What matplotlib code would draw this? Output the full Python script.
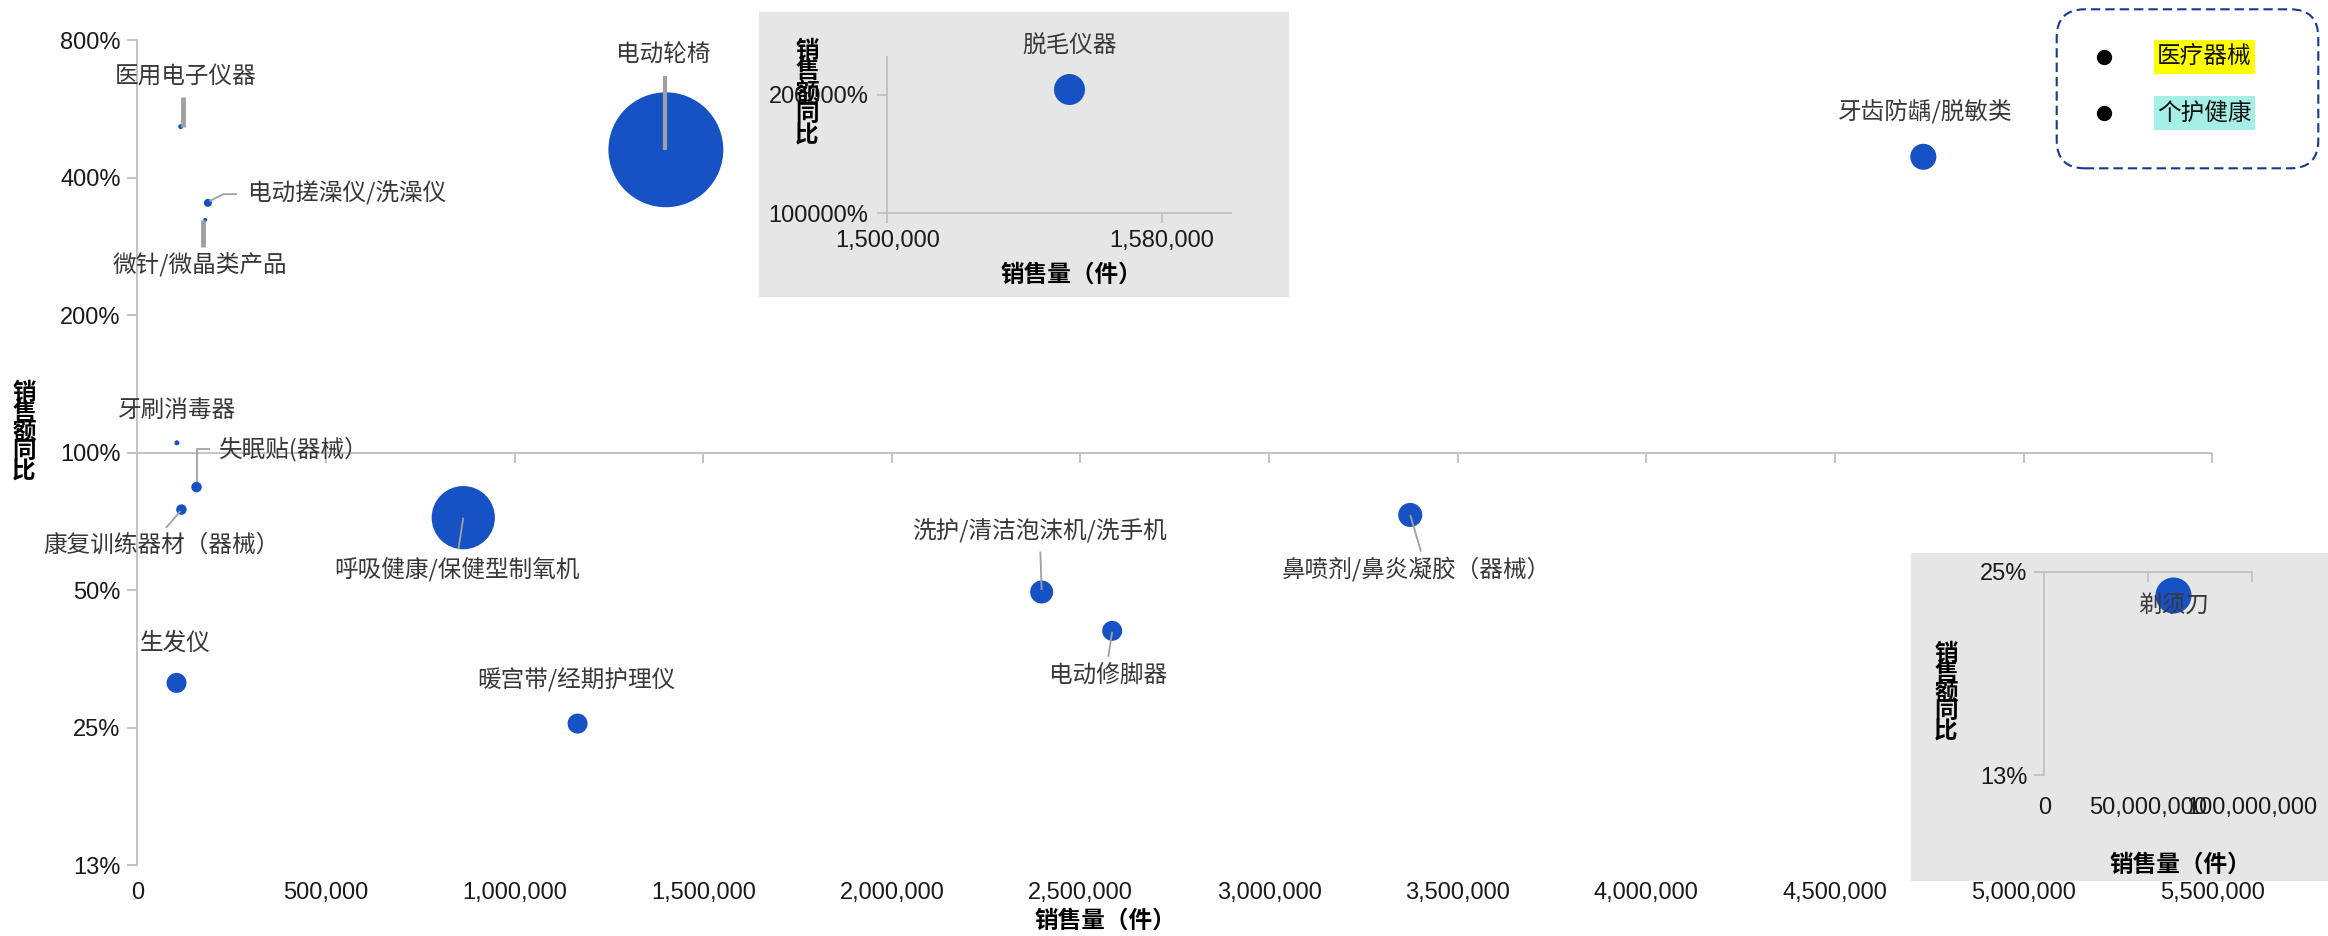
import numpy as np
import matplotlib
matplotlib.use("Agg")
import matplotlib.pyplot as plt
from matplotlib.patches import Rectangle, FancyBboxPatch
from matplotlib.lines import Line2D
from matplotlib.transforms import IdentityTransform
from matplotlib.ticker import FixedLocator, FixedFormatter, NullLocator

plt.rcParams['font.family'] = ['Liberation Sans', 'Noto Sans CJK SC', 'DejaVu Sans']
CJK = ['Noto Sans CJK SC', 'DejaVu Sans']

# ---------------- data ----------------
categories = ['医用电子仪器', '电动搓澡仪/洗澡仪', '微针/微晶类产品', '电动轮椅', '牙齿防龋/脱敏类',
              '牙刷消毒器', '失眠贴(器械）', '康复训练器材（器械）', '呼吸健康/保健型制氧机', '生发仪',
              '暖宫带/经期护理仪', '洗护/清洁泡沫机/洗手机', '电动修脚器', '鼻喷剂/鼻炎凝胶（器械）']
sales_volume = [115000, 187000, 180000, 1401000, 4734000, 105000, 157000, 117000,
                864000, 104000, 1167000, 2397000, 2584000, 3374000]
sales_yoy = [5.17, 3.52, 3.23, 4.60, 4.44, 1.05, 0.84, 0.75, 0.72, 0.313, 0.255, 0.495, 0.407, 0.73]
sales_amount = [0.25, 0.64, 0.16, 132, 6.8, 0.25, 1.1, 1.1, 40, 4.0, 4.0, 5.3, 4.0, 5.8]

inset1_category = ['脱毛仪器']
inset1_volume = [1553000]
inset1_yoy = [2067.0]
inset1_amount = [9.6]

inset2_category = ['剃须刀']
inset2_volume = [62200000]
inset2_yoy = [0.231]
inset2_amount = [13.0]

legend_labels = ['医疗器械', '个护健康']

main_xticks = [0, 500000, 1000000, 1500000, 2000000, 2500000, 3000000, 3500000,
               4000000, 4500000, 5000000, 5500000]
main_yticks = [0.125, 0.25, 0.5, 1, 2, 4, 8]
inset1_xticks = [1500000, 1580000]
inset1_yticks = [1000, 2000]
inset2_xticks = [0, 50000000, 100000000]
inset2_yticks = [0.125, 0.25]

# ---------------- style / layout ----------------
W, H, DPI = 2328, 936, 100
BUBBLE = '#1652c4'
AXIS_C = '#c4c4c4'
LABEL_C = '#383838'
TICK_C = '#1a1a1a'
LEADER_C = '#a0a0a0'
INSET_BG = '#e6e6e6'
SIZE_SCALE = 51.84  # points^2 per unit of sales_amount
FS = 17

# (dx, dy, ha): label offset from bubble centre in pixels, y downwards
label_layout = {
    '医用电子仪器': (4.5, -50.7, 'center'),
    '电动搓澡仪/洗澡仪': (39.8, -9.4, 'left'),
    '微针/微晶类产品': (-5.2, 45, 'center'),
    '电动轮椅': (-3, -95, 'center'),
    '牙齿防龋/脱敏类': (1.7, -45, 'center'),
    '牙刷消毒器': (0, -32, 'center'),
    '失眠贴(器械）': (22.8, -37.6, 'left'),
    '康复训练器材（器械）': (-20.4, 36.1, 'center'),
    '呼吸健康/保健型制氧机': (-5.8, 51.4, 'center'),
    '生发仪': (-0.9, -40, 'center'),
    '暖宫带/经期护理仪': (-1.6, -43.2, 'center'),
    '洗护/清洁泡沫机/洗手机': (-2.6, -61, 'center'),
    '电动修脚器': (-4.4, 44.3, 'center'),
    '鼻喷剂/鼻炎凝胶（器械）': (6.4, 54.3, 'center'),
    '脱毛仪器': (0, -43.3, 'center'),
    '剃须刀': (0, 10, 'center'),
}
leader_layout = {
    '医用电子仪器': ([(2.5, 0), (2.5, -30)], 3.5),
    '电动搓澡仪/洗澡仪': ([(1.6, -1.7), (15.6, -8.7), (29, -8.7)], 1.3),
    '微针/微晶类产品': ([(-2.4, 0), (-2.4, 26.7)], 3.5),
    '电动轮椅': ([(-1.3, 0), (-1.3, -73.3)], 3.0),
    '失眠贴(器械）': ([(0, -5), (0, -37.6), (13, -37.6)], 1.3),
    '康复训练器材（器械）': ([(-1, 1.4), (-15.5, 18.4)], 1.3),
    '呼吸健康/保健型制氧机': ([(0, 0), (-4.8, 31.7)], 1.3),
    '洗护/清洁泡沫机/洗手机': ([(0, -2), (-1.3, -40.3)], 1.3),
    '电动修脚器': ([(0, 1), (-3.9, 26)], 1.3),
    '鼻喷剂/鼻炎凝胶（器械）': ([(0, 0), (10.8, 36.7)], 1.3),
}


def rect(x0, y0, x1, y1):
    return [x0 / W, 1 - y1 / H, (x1 - x0) / W, (y1 - y0) / H]


def pct(v):
    return f"{int(v * 100 + 0.5)}%"


def num(v):
    return f"{int(v):,}"


fig = plt.figure(figsize=(W / DPI, H / DPI), dpi=DPI, facecolor='white')


def style_axis(ax):
    ax.set_facecolor('none')
    for s in ax.spines.values():
        s.set_color(AXIS_C)
        s.set_linewidth(1.44)
    ax.yaxis.set_minor_locator(NullLocator())
    ax.xaxis.set_minor_locator(NullLocator())


def draw_bubbles(ax, xs, ys, amounts, names):
    ax.scatter(xs, ys, s=np.asarray(amounts) * SIZE_SCALE, c=BUBBLE,
               linewidths=0, zorder=3, clip_on=False)
    for name, x, y in zip(names, xs, ys):
        if name in leader_layout:
            pts, lw = leader_layout[name]
            bx, by = ax.transData.transform((x, y))
            ax.add_line(Line2D([bx + p[0] for p in pts], [by - p[1] for p in pts],
                               transform=IdentityTransform(), color=LEADER_C, lw=lw,
                               solid_capstyle='butt', zorder=4, clip_on=False))
        dx, dy, ha = label_layout[name]
        ax.annotate(name, (x, y), xytext=(dx, -dy), textcoords='offset pixels',
                    ha=ha, va='center', fontsize=FS, color=LABEL_C, family=CJK,
                    fontweight='light', zorder=5, annotation_clip=False)


def stacked_title(x, y_top, step, text='销售额同比'):
    for i, ch in enumerate(text):
        fig.text(x / W, 1 - (y_top + i * step) / H, ch, ha='center', va='center',
                 fontsize=FS, fontweight='bold', family=CJK, color='black', zorder=6)


# ---------------- main chart ----------------
ax = fig.add_axes(rect(137.3, 40, 2212.3, 865), zorder=0)
style_axis(ax)
ax.set_yscale('log', base=2)
ax.set_xlim(0, 5500000)
ax.set_ylim(0.125, 8)
for s in ['top', 'right', 'bottom']:
    ax.spines[s].set_visible(False)
ax.yaxis.set_major_locator(FixedLocator(main_yticks))
ax.yaxis.set_major_formatter(FixedFormatter([pct(v) for v in main_yticks]))
ax.xaxis.set_major_locator(FixedLocator(main_xticks))
ax.xaxis.set_major_formatter(FixedFormatter([num(v) for v in main_xticks]))
ax.tick_params(axis='y', length=7.2, width=1.44, color=AXIS_C, labelsize=FS,
               labelcolor=TICK_C, pad=4.8)
ax.tick_params(axis='x', length=0, labelsize=FS, labelcolor=TICK_C, pad=12)
ax.axhline(1, color=AXIS_C, lw=1.44, zorder=1)
ax.plot(main_xticks, np.ones(len(main_xticks)), ls='none', marker=3, ms=7.2,
        mew=1.44, color=AXIS_C, clip_on=False, zorder=1)
draw_bubbles(ax, sales_volume, sales_yoy, sales_amount, categories)

fig.text(1105 / W, 1 - 921 / H, '销售量（件）', ha='center', va='center', fontsize=FS,
         fontweight='bold', family=CJK, color='black')
stacked_title(24, 393.5, 19.2)

# ---------------- inset 1 (top) ----------------
fig.add_artist(Rectangle((758.7, H - 297), 530, 285.1, transform=IdentityTransform(),
                         fc=INSET_BG, ec='none', zorder=2))
ax1 = fig.add_axes(rect(887.3, 56.7, 1230.6, 213.3), zorder=3)
style_axis(ax1)
ax1.set_yscale('log', base=2)
ax1.set_xlim(1500000, 1600000)
ax1.set_ylim(1000, 2500)
ax1.spines['top'].set_visible(False)
ax1.spines['right'].set_visible(False)
ax1.yaxis.set_major_locator(FixedLocator(inset1_yticks))
ax1.yaxis.set_major_formatter(FixedFormatter([pct(v) for v in inset1_yticks]))
ax1.yaxis.set_minor_locator(NullLocator())
ax1.xaxis.set_major_locator(FixedLocator(inset1_xticks))
ax1.xaxis.set_major_formatter(FixedFormatter([num(v) for v in inset1_xticks]))
ax1.tick_params(axis='both', length=7.2, width=1.44, color=AXIS_C, labelsize=FS,
                labelcolor=TICK_C)
ax1.tick_params(axis='y', pad=6.5)
ax1.tick_params(axis='x', pad=5)
draw_bubbles(ax1, inset1_volume, inset1_yoy, inset1_amount, inset1_category)
fig.text(1071 / W, 1 - 275 / H, '销售量（件）', ha='center', va='center', fontsize=FS,
         fontweight='bold', family=CJK, color='black', zorder=6)
stacked_title(807, 50.5, 21)

# ---------------- inset 2 (bottom right) ----------------
fig.add_artist(Rectangle((1911, H - 881), W - 1911, 328, transform=IdentityTransform(),
                         fc=INSET_BG, ec='none', zorder=2))
ax2 = fig.add_axes(rect(2044.3, 571.7, 2251.7, 775), zorder=3)
style_axis(ax2)
ax2.set_yscale('log', base=2)
ax2.set_xlim(0, 100000000)
ax2.set_ylim(0.125, 0.25)
ax2.spines['bottom'].set_visible(False)
ax2.spines['right'].set_visible(False)
ax2.yaxis.set_major_locator(FixedLocator(inset2_yticks))
ax2.yaxis.set_major_formatter(FixedFormatter([pct(v) for v in inset2_yticks]))
ax2.yaxis.set_minor_locator(NullLocator())
ax2.xaxis.set_major_locator(FixedLocator(inset2_xticks))
ax2.xaxis.set_major_formatter(FixedFormatter([num(v) for v in inset2_xticks]))
ax2.tick_params(axis='y', length=7.2, width=1.44, color=AXIS_C, labelsize=FS,
                labelcolor=TICK_C, pad=5)
ax2.tick_params(axis='x', length=0, labelsize=FS, labelcolor=TICK_C, pad=16)
ax2.plot(inset2_xticks, [inset2_yticks[-1]] * len(inset2_xticks), ls='none', marker=3,
         ms=7.2, mew=1.44, color=AXIS_C, clip_on=False, zorder=1)
draw_bubbles(ax2, inset2_volume, inset2_yoy, inset2_amount, inset2_category)
fig.text(2180 / W, 1 - 865 / H, '销售量（件）', ha='center', va='center', fontsize=FS,
         fontweight='bold', family=CJK, color='black', zorder=6)
stacked_title(1946, 653.8, 19.2)

# ---------------- legend ----------------
fig.add_artist(FancyBboxPatch((2056.7, H - 168.3), 261.6, 159,
                              boxstyle='round,pad=0,rounding_size=28',
                              transform=IdentityTransform(), fill=False, ec='#173a8e',
                              lw=1.5, ls=(0, (4.5, 2.4)), zorder=4))
legend_bg = ['#ffff00', '#a6efe7']
for i, (lab, bg) in enumerate(zip(legend_labels, legend_bg)):
    yc = 56.7 + i * 56.6
    fig.add_artist(Line2D([2104.3], [H - yc], transform=IdentityTransform(), marker='o',
                          ms=10, color='black', ls='none', zorder=5))
    fig.add_artist(Rectangle((2154, H - yc - 17), 101, 34, transform=IdentityTransform(),
                             fc=bg, ec='none', zorder=5))
    fig.text(2204.5 / W, 1 - yc / H, lab, ha='center', va='center', fontsize=FS,
             family=CJK, color='#111111', zorder=6)

fig.savefig('out.png', dpi=DPI, facecolor='white')
